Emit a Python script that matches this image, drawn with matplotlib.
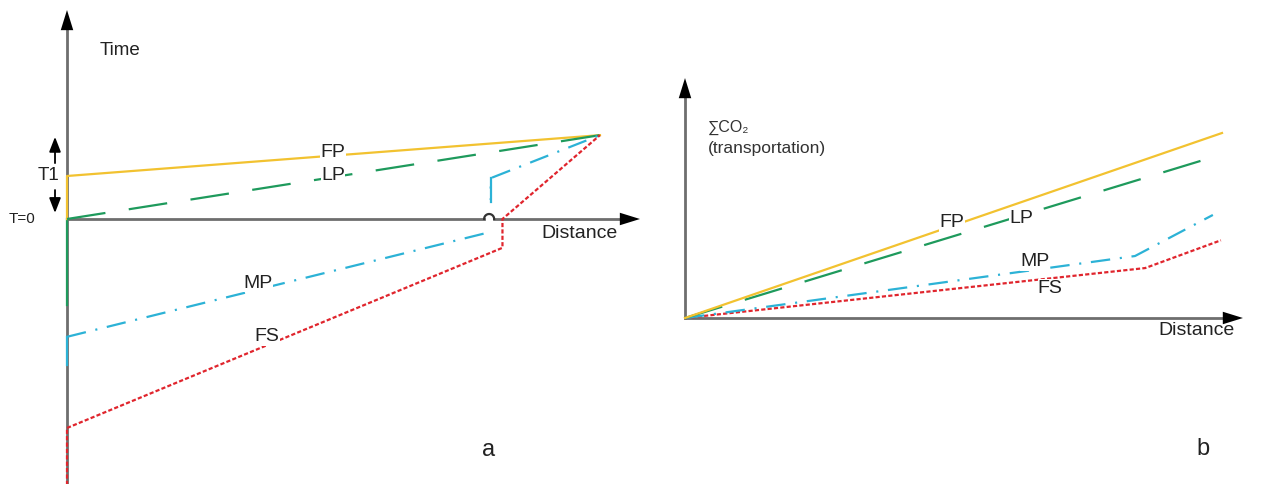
import numpy as np
import matplotlib
matplotlib.use("Agg")
import matplotlib.pyplot as plt

plt.rcParams["font.family"] = ["Liberation Sans", "DejaVu Sans"]
plt.rcParams["lines.scale_dashes"] = False

# ---- data: panel a (distance vs time), T1 = 1 time unit, destination = 1 distance unit
a_fp_d = [0, 0, 1.0]
a_fp_t = [0, 1.0, 1.95]
a_lp_d = [0, 1.0]
a_lp_t = [0, 1.95]
a_lp_wait = [-2.0, 0]
a_mp_d = [0, 0.795, 0.795, 1.0]
a_mp_t = [-2.74, -0.30, 0.95, 1.95]
a_mp_wait = [-3.40, -2.74]
a_fs_d = [0, 0.817, 0.817, 1.0]
a_fs_t = [-4.86, -0.67, 0, 1.95]
a_fs_wait = [-6.2, -4.86]

# ---- data: panel b (distance vs cumulative CO2)
b_fp_d = [0, 1.0]
b_fp_c = [0, 1.0]
b_lp_d = [0, 0.978]
b_lp_c = [0, 0.865]
b_mp_d = [0, 0.838, 0.983]
b_mp_c = [0, 0.335, 0.557]
b_fs_d = [0, 0.857, 0.998]
b_fs_c = [0, 0.27, 0.42]

YELLOW = "#f2c230"
GREEN = "#1e9a5c"
CYAN = "#2cb2d6"
RED = "#e0252d"
AXIS = "#6e6e6e"
TXT = "#222222"

ST_FP = dict(color=YELLOW, lw=1.6, linestyle="-")
ST_LP = dict(color=GREEN, lw=1.6, dashes=(28, 17))
ST_MP = dict(color=CYAN, lw=1.6, dashes=(14, 7, 1.5, 7))
ST_FS = dict(color=RED, lw=1.6, dashes=(3, 1.6))

fig = plt.figure(figsize=(12.62, 4.84), dpi=100)


def head(ax, tip, base):
    ax.annotate("", xy=tip, xytext=base,
                arrowprops=dict(arrowstyle="-|>,head_length=1.45,head_width=0.45",
                                color="black", lw=0, mutation_scale=10,
                                shrinkA=0, shrinkB=0), zorder=7)


def label(ax, x, y, s, size=14):
    ax.text(x, y, s, ha="center", va="center", fontsize=size, color=TXT,
            bbox=dict(facecolor="white", edgecolor="none", pad=0.2), zorder=6)


# ---------------- panel a ----------------
ax = fig.add_axes([0, 0, 660 / 1262, 1])
ax.set_xlim((0 - 67) / 533, (660 - 67) / 533)
ax.set_ylim((219 - 484) / 43, 219 / 43)
ax.set_axis_off()

ax.plot(a_fp_d, a_fp_t, zorder=4, **ST_FP)
ax.plot(a_lp_d, a_lp_t, zorder=4, **ST_LP)
ax.plot([0, 0], a_lp_wait, color=GREEN, lw=1.6, zorder=3)
ax.plot(a_mp_d, a_mp_t, zorder=4, **ST_MP)
ax.plot([0, 0], a_mp_wait, color=CYAN, lw=1.6, zorder=3)
ax.plot(a_fs_d, a_fs_t, zorder=4, **ST_FS)
ax.plot([0, 0], a_fs_wait, color=RED, lw=1.6, zorder=3, dashes=(3, 1.6))

# MP transfer: hidden where it crosses the axis, solid just above it
ax.plot([a_mp_d[1]] * 2, [-0.25, 0.40], color="white", lw=3, zorder=5)
ax.plot([a_mp_d[2]] * 2, [0.40, a_mp_t[2]], color=CYAN, lw=1.6, zorder=5)

# axes with a small hop where MP crosses the distance axis
hop_d, rx, ry = 0.792, 5 / 533, 5 / 43
ax.plot([0, 0], [-6.3, 4.45], color=AXIS, lw=2, zorder=2)
ax.plot([0, hop_d - rx], [0, 0], color=AXIS, lw=2, zorder=2)
th = np.linspace(np.pi, 0, 30)
ax.plot(hop_d + rx * np.cos(th), ry * np.sin(th), color="#333333", lw=1.6, zorder=6)
ax.plot([hop_d + rx, 1.04], [0, 0], color=AXIS, lw=2, zorder=2)
head(ax, (0, 4.86), (0, 4.40))
head(ax, (1.075, 0), (1.035, 0))

# T1 arrows
for y0, y1 in [(1.30, 1.91), (0.674, 0.14)]:
    ax.annotate("", xy=(-0.0225, y1), xytext=(-0.0225, y0),
                arrowprops=dict(arrowstyle="-|>,head_length=0.9,head_width=0.35",
                                color="black", lw=1.3, mutation_scale=10,
                                shrinkA=0, shrinkB=0))

ax.text(0.062, 3.93, "Time", ha="left", va="center", fontsize=13.5, color=TXT)
ax.text(-0.0356, 1.0, "T1", ha="center", va="center", fontsize=13.5, color=TXT)
ax.text(-0.084, 0, "T=0", ha="center", va="center", fontsize=11, color=TXT)
ax.text(0.962, -0.33, "Distance", ha="center", va="center", fontsize=14, color=TXT)
label(ax, 0.499, 1.55, "FP")
label(ax, 0.499, 1.0, "LP")
label(ax, 0.358, -1.49, "MP")
label(ax, 0.375, -2.74, "FS")
ax.text(0.79, -5.37, "a", ha="center", va="center", fontsize=17, color=TXT)

# ---------------- panel b ----------------
bx = fig.add_axes([660 / 1262, 0, 602 / 1262, 1])
bx.set_xlim((660 - 685) / 537, (1262 - 685) / 537)
bx.set_ylim((318 - 484) / 185, 318 / 185)
bx.set_axis_off()

bx.plot([0, 0], [0, 1.19], color=AXIS, lw=2, zorder=2)
bx.plot([0, 1.0], [0, 0], color=AXIS, lw=2, zorder=2)
head(bx, (0, 1.297), (0, 1.19))
head(bx, (1.039, 0), (1.0, 0))

bx.plot(b_fs_d, b_fs_c, zorder=3, **ST_FS)
bx.plot(b_mp_d, b_mp_c, zorder=3, **ST_MP)
bx.plot(b_lp_d, b_lp_c, zorder=4, **ST_LP)
bx.plot(b_fp_d, b_fp_c, zorder=4, **ST_FP)

bx.text(0.043, 1.03, "∑CO₂", ha="left", va="center", fontsize=11.5, color="#333333")
bx.text(0.043, 0.915, "(transportation)", ha="left", va="center", fontsize=12.5, color="#333333")
bx.text(0.953, -0.065, "Distance", ha="center", va="center", fontsize=14, color=TXT)
label(bx, 0.497, 0.514, "FP")
label(bx, 0.626, 0.54, "LP")
label(bx, 0.652, 0.303, "MP")
label(bx, 0.68, 0.162, "FS")
bx.text(0.965, -0.71, "b", ha="center", va="center", fontsize=17, color=TXT)

fig.savefig("out.png", dpi=100, facecolor="white")
